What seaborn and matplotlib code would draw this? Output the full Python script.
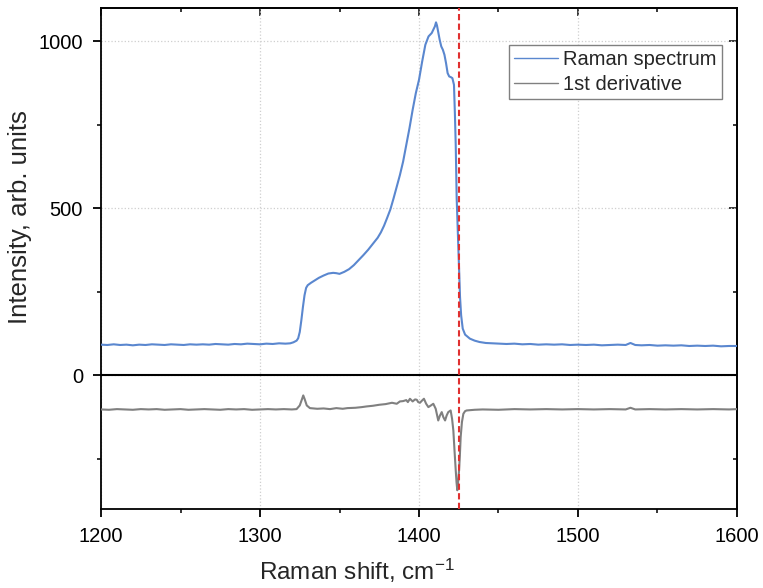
import matplotlib
matplotlib.use("Agg")
import matplotlib.pyplot as plt
import seaborn as sns
import pandas as pd
from matplotlib.ticker import MultipleLocator

# ---------------- data ----------------
raman_x = [1200, 1204, 1208, 1212, 1216, 1220, 1224, 1228, 1232, 1236, 1240, 1244, 1248,
           1252, 1256, 1260, 1264, 1268, 1272, 1276, 1280, 1284, 1288, 1292, 1296, 1300,
           1304, 1308, 1312, 1316, 1319, 1321, 1323, 1324, 1325, 1326, 1327, 1328, 1329,
           1330, 1332, 1334, 1337, 1340, 1343, 1346, 1348, 1350, 1353, 1356, 1359, 1362,
           1365, 1368, 1371, 1374, 1376, 1378, 1380, 1382, 1384, 1386, 1388, 1390, 1392,
           1394, 1396, 1398, 1400, 1402, 1404, 1406, 1408, 1409, 1410, 1410.7, 1411.3,
           1412, 1413, 1414, 1415, 1416, 1417, 1418, 1419, 1420, 1421, 1422, 1422.6,
           1423.1, 1423.7, 1424.2, 1424.7, 1425.3, 1425.8, 1426.5, 1427.5, 1429, 1432,
           1435, 1438, 1442, 1446, 1450, 1455, 1460, 1465, 1470, 1475, 1480, 1485, 1490,
           1495, 1500, 1505, 1510, 1515, 1520, 1525, 1530, 1533, 1536, 1540, 1545, 1550,
           1555, 1560, 1565, 1570, 1575, 1580, 1585, 1590, 1595, 1600]
raman_y = [92, 91, 93, 91, 92, 90, 92, 91, 93, 92, 91, 93, 92,
           91, 93, 92, 93, 92, 94, 93, 92, 94, 93, 95, 94, 93,
           95, 94, 96, 95, 96, 99, 104, 111, 130, 165, 205, 240, 262,
           270, 277, 283, 292, 299, 305, 307, 306, 304, 310, 318, 330, 345,
           360, 376, 394, 412, 428, 448, 472, 497, 530, 565, 600, 640, 690,
           740, 795, 845, 885, 940, 990, 1015, 1025, 1035, 1045, 1057, 1048,
           1030, 1005, 985, 975, 960, 935, 905, 895, 893, 890, 870, 780,
           690, 530, 460, 395, 310, 235, 180, 140, 122, 110,
           104, 100, 97, 96, 95, 94, 95, 93, 94, 92, 93, 92, 93,
           91, 92, 91, 92, 90, 91, 92, 91, 97, 91, 90, 91, 89,
           90, 89, 90, 88, 89, 88, 89, 87, 88, 88]

deriv_x = [1200, 1205, 1210, 1215, 1220, 1225, 1230, 1235, 1240, 1245, 1250, 1255, 1260,
           1265, 1270, 1275, 1280, 1285, 1290, 1295, 1300, 1305, 1310, 1315, 1320, 1323,
           1325, 1326.5, 1327.2, 1328, 1329.4, 1331.4, 1336, 1340, 1344, 1348, 1352,
           1355, 1360, 1364, 1367, 1371, 1375, 1379, 1383, 1386, 1388, 1390, 1392, 1393,
           1394.3, 1396, 1397.5, 1398.6, 1399.5, 1400.6, 1402, 1403.1, 1404.5, 1405.9,
           1407.5, 1409, 1410.5, 1412.1, 1413.2, 1414.3, 1415.3, 1416.4, 1417.4, 1418.4,
           1419.9, 1420.8, 1421.6, 1422.4, 1423.1, 1423.6, 1424.1, 1424.6, 1425.2,
           1425.7, 1426.2, 1427, 1427.9, 1429, 1430, 1435, 1440, 1450, 1460, 1470,
           1480, 1490, 1500, 1510, 1520, 1530, 1533, 1536, 1545, 1555, 1565, 1575,
           1585, 1595, 1600]
deriv_y = [-102, -103, -101, -102, -103, -101, -102, -101, -103, -102, -101, -103, -102,
           -101, -102, -103, -101, -102, -101, -103, -102, -101, -102, -101, -102, -101,
           -90, -70, -60, -70, -90, -98, -100, -99, -101, -98, -100,
           -98, -97, -95, -93, -91, -88, -86, -82, -85, -78, -77, -74, -80,
           -70, -78, -72, -73, -80, -82, -75, -70, -85, -95,
           -90, -85, -100, -135, -120, -110, -125, -135, -120, -110,
           -105, -130, -165, -230, -284, -320, -344, -320, -284,
           -240, -185, -140, -115, -107, -105, -103, -102, -103, -101, -102,
           -101, -102, -101, -102, -101, -102, -97, -102, -101, -102, -101, -102,
           -101, -102, -101]

marker_x = 1425

series_names = ["Raman spectrum", "1st derivative"]
x_ticks = [1200, 1300, 1400, 1500, 1600]
y_ticks = [0, 500, 1000]

# ---------------- style ----------------
sns.set_theme(style="ticks")
plt.rcParams["font.family"] = ["Liberation Sans", "DejaVu Sans"]
plt.rcParams["mathtext.fontset"] = "custom"
plt.rcParams["mathtext.rm"] = "Liberation Sans"
plt.rcParams["mathtext.default"] = "regular"

fig = plt.figure(figsize=(7.63, 5.88), dpi=100)
ax = fig.add_axes([0.1324, 0.1344, 0.8335, 0.852])

df_r = pd.DataFrame({"x": raman_x, "y": raman_y})
df_d = pd.DataFrame({"x": deriv_x, "y": deriv_y})

ax.grid(True, which="major", color="#cfcfcf", linestyle=":", linewidth=0.9)
ax.axhline(0, color="black", linewidth=1.5, zorder=3)
sns.lineplot(data=df_r, x="x", y="y", ax=ax, color="#5a87cf", linewidth=1.5,
             sort=False, estimator=None, label=series_names[0], zorder=4)
sns.lineplot(data=df_d, x="x", y="y", ax=ax, color="#808080", linewidth=1.5,
             sort=False, estimator=None, label=series_names[1], zorder=4)
ax.axvline(marker_x, color="#e03030", linestyle=(0, (3, 1.6)), linewidth=1.5, zorder=5)

ax.set_xlim(1200, 1600)
ax.set_ylim(-400, 1100)
ax.set_xticks(x_ticks)
ax.set_yticks(y_ticks)
ax.xaxis.set_minor_locator(MultipleLocator(50))
ax.yaxis.set_minor_locator(MultipleLocator(250))

for s in ax.spines.values():
    s.set_visible(True)
    s.set_linewidth(1.3)
    s.set_color("black")

ax.tick_params(which="major", direction="out", length=6, width=1.3, labelsize=14.5,
               colors="black", pad=7)
ax.tick_params(which="minor", direction="out", length=3, width=1.3)

# mirrored inward ticks on top and right
top = ax.secondary_xaxis("top")
top.set_xticks(x_ticks)
top.xaxis.set_minor_locator(MultipleLocator(50))
top.tick_params(which="major", direction="in", length=6, width=1.3, labeltop=False)
top.tick_params(which="minor", direction="in", length=3, width=1.3)
right = ax.secondary_yaxis("right")
right.set_yticks(y_ticks)
right.yaxis.set_minor_locator(MultipleLocator(250))
right.tick_params(which="major", direction="in", length=6, width=1.3, labelright=False)
right.tick_params(which="minor", direction="in", length=3, width=1.3)
for sp in list(top.spines.values()) + list(right.spines.values()):
    sp.set_linewidth(1.3)

ax.set_xlabel("Raman shift, cm$^{-1}$", fontsize=17.5)
ax.set_ylabel("Intensity, arb. units", fontsize=18.5)
ax.xaxis.set_label_coords(0.403, -0.096)
ax.yaxis.set_label_coords(-0.108, 0.582)

leg = ax.legend(loc="upper right", bbox_to_anchor=(0.976, 0.926), fontsize=14.5,
                frameon=True, fancybox=False, framealpha=1, edgecolor="#808080",
                handlelength=2.2, handletextpad=0.25, borderpad=0.25, labelspacing=0.3,
                borderaxespad=0)
leg.get_frame().set_linewidth(1.0)
for ln in leg.get_lines():
    ln.set_linewidth(1.0)

fig.savefig("out.png", dpi=100)
